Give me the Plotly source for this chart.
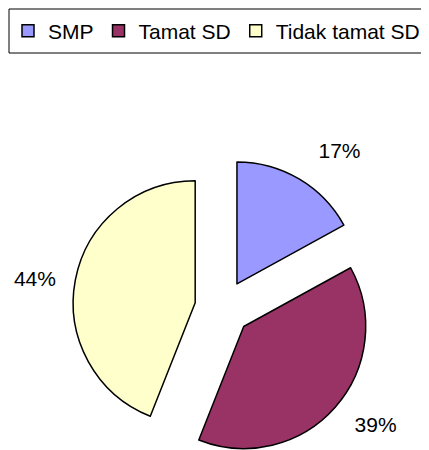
import plotly.graph_objects as go

labels = ["SMP", "Tamat SD", "Tidak tamat SD"]
values = [17, 39, 44]
colors = ["#9999FF", "#993366", "#FFFFCC"]

W, H = 429, 450
# figure-pixel geometry of the pie domain (page shows figure offset by 8px)
cx, cy, half = 214.7, 300.0, 150.0
pull = half / 122.0 - 1

fig = go.Figure(go.Pie(
    labels=labels,
    values=values,
    sort=False,
    direction="clockwise",
    rotation=0,
    pull=pull,
    marker=dict(colors=colors, line=dict(color="black", width=1.5)),
    textinfo="percent",
    # blank lines above/below push the outside labels a little further out
    texttemplate="\u00a0<br>%{percent:.0%}<br>\u00a0",
    textposition="outside",
    textfont=dict(family="Arial, Liberation Sans", size=21, color="black"),
    domain=dict(x=[(cx - half) / W, (cx + half) / W],
                y=[(H - cy - half) / H, (H - cy + half) / H]),
    hoverinfo="label+percent",
    automargin=False,
))

fig.update_layout(
    width=W, height=H,
    margin=dict(l=0, r=0, t=0, b=0, autoexpand=False),
    paper_bgcolor="white",
    plot_bgcolor="white",
    showlegend=True,
    legend=dict(
        orientation="h",
        x=0, y=1 - 23 / H,
        xanchor="left", yanchor="middle",
        borderwidth=0,
        bgcolor="rgba(0,0,0,0)",
        font=dict(family="Arial, Liberation Sans", size=21, color="black"),
        itemwidth=30,
    ),
    shapes=[dict(
        type="rect", xref="paper", yref="paper",
        x0=1 / W, x1=1.05, y0=1 - 1 / H, y1=1 - 45 / H,
        line=dict(color="black", width=1), fillcolor="rgba(0,0,0,0)",
        layer="below",
    )],
)

fig.write_html("out.html")
